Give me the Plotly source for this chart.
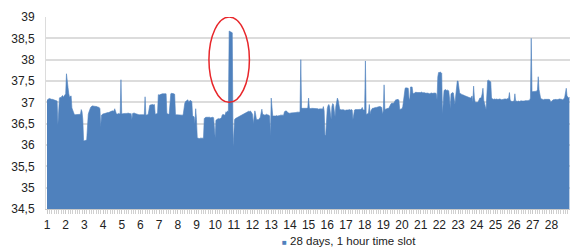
import plotly.graph_objects as go

# Hourly temperature readings, 24 per day, 28 days
day01 = [37.05,37.08,37.08,37.09,37.08,37.08,37.07,37.07,37.06,37.06,37.05,37.04,37.03,37.03,36.47,37.05,37.1,37.12,37.1,37.14,37.16,37.12,37.15,37.18]
day02 = [37.2,37.67,37.42,37.35,37.2,37.12,37.14,37.15,36.87,36.8,36.75,36.72,36.71,36.71,36.72,36.71,36.71,36.71,36.72,36.72,36.83,36.78,36.6,36.1]
day03 = [36.1,36.1,36.11,36.12,36.67,36.72,36.78,36.84,36.88,36.9,36.92,36.92,36.91,36.91,36.9,36.9,36.9,36.89,36.88,36.88,36.85,36.42,36.7,36.72]
day04 = [36.73,36.73,36.74,36.74,36.75,36.75,36.76,36.76,36.77,36.77,36.78,36.8,36.8,36.79,36.8,36.85,36.78,36.74,36.72,36.73,36.74,36.73,36.74,37.53]
day05 = [36.73,36.73,36.74,36.73,36.74,36.74,36.73,36.74,36.75,36.74,36.74,36.73,36.74,36.6,36.74,36.75,36.75,36.74,36.73,36.72,36.72,36.72,36.71,36.71]
day06 = [36.71,36.71,36.7,36.7,36.71,36.72,37.13,36.7,36.7,36.71,36.72,36.9,36.93,36.94,36.95,36.95,36.95,36.94,36.95,36.72,36.72,36.73,36.75,37.18]
day07 = [37.17,37.18,37.19,37.19,37.2,37.2,37.2,37.2,37.21,37.2,36.74,36.72,36.72,36.73,37.18,37.2,37.21,37.21,37.2,37.2,37.19,36.72,36.71,36.71]
day08 = [36.71,36.71,36.7,36.7,36.7,36.71,36.7,36.72,36.9,36.98,37.02,37.04,37.05,37.06,37.0,37.04,37.05,37.03,37.02,36.68,36.67,36.66,36.5,36.85]
day09 = [36.6,36.17,36.16,36.15,36.15,36.16,36.16,36.15,36.16,36.16,36.62,36.64,36.65,36.65,36.65,36.66,36.65,36.65,36.64,36.65,36.66,36.65,36.64,36.4]
day10 = [36.17,36.58,36.6,36.62,36.62,36.61,36.62,36.62,36.63,36.7,36.72,36.71,36.7,36.72,36.78,36.76,36.8,36.78,38.67,38.66,38.65,38.64,38.63,35.96]
day11 = [36.55,36.6,36.62,36.63,36.65,36.66,36.67,36.68,36.69,36.7,36.71,36.72,36.73,36.74,36.74,36.75,36.76,36.78,36.79,36.79,36.78,36.8,36.78,36.72]
day12 = [36.72,36.5,36.75,36.8,36.72,36.6,36.6,36.59,36.6,36.62,36.65,36.75,36.84,36.72,36.71,36.71,36.7,36.71,36.72,36.71,36.71,36.7,36.68,36.2]
day13 = [37.1,36.85,36.68,36.68,36.67,36.68,36.68,36.69,36.68,36.68,36.69,36.69,36.7,36.7,36.69,36.7,36.7,36.78,36.79,36.8,36.79,36.76,36.75,36.75]
day14 = [36.74,36.75,36.75,36.75,36.76,36.75,36.76,36.76,36.76,36.77,36.76,36.77,36.77,36.78,38.0,36.87,36.86,36.86,36.86,36.87,36.86,36.86,36.86,36.88]
day15 = [37.1,36.87,36.86,36.85,36.86,36.86,36.85,36.85,36.86,36.85,36.86,36.85,36.85,36.84,36.85,36.85,36.84,36.85,36.84,36.9,36.8,36.24,36.22,36.6]
day16 = [36.85,36.92,36.95,36.9,36.8,36.6,36.9,36.97,36.95,36.85,36.66,36.9,37.0,37.1,37.05,36.9,36.84,36.83,36.82,36.82,36.83,36.82,36.82,36.81]
day17 = [36.82,36.82,36.81,36.82,36.83,36.82,36.82,36.83,36.82,36.6,36.75,36.82,36.83,36.82,36.83,36.83,36.82,36.83,36.84,36.83,36.85,36.88,36.82,36.82]
day18 = [36.82,37.97,36.72,36.72,36.73,36.75,36.95,36.72,36.8,36.85,36.86,36.86,36.87,36.87,36.88,36.88,36.89,36.88,36.89,36.9,36.9,36.89,36.88,36.72]
day19 = [36.8,37.41,36.83,36.84,36.85,36.85,36.86,36.86,36.9,36.97,36.97,36.98,36.97,36.98,37.0,37.05,37.06,37.06,37.06,37.07,37.05,36.84,36.84,36.84]
day20 = [36.85,36.9,37.1,37.2,37.33,37.34,37.33,37.34,37.33,37.1,37.06,37.36,37.37,37.36,37.22,37.2,37.22,37.23,37.24,37.23,37.23,37.22,37.23,37.22]
day21 = [37.23,37.24,37.23,37.22,37.23,37.22,37.22,37.21,37.22,37.22,37.21,37.2,37.21,37.21,37.22,37.21,37.21,37.22,37.21,37.22,37.2,37.06,37.6,37.7]
day22 = [37.7,37.71,37.7,37.68,36.72,37.1,37.28,37.29,37.3,37.28,37.29,37.28,37.27,37.1,36.85,37.2,37.22,37.23,37.22,37.1,36.95,37.15,37.3,37.5]
day23 = [37.5,37.3,37.22,37.2,37.2,37.18,37.18,37.17,37.16,37.15,37.15,37.13,37.12,37.12,37.11,37.1,37.1,37.12,37.15,37.0,37.38,37.1,37.0,37.0]
day24 = [37.0,37.0,37.02,37.08,37.1,37.1,37.12,37.2,37.33,37.05,37.0,36.9,36.83,37.45,37.51,37.52,37.51,37.5,37.48,37.1,37.08,37.07,37.07,37.08]
day25 = [37.07,37.08,37.07,37.06,37.07,37.08,37.08,37.07,37.06,37.07,37.08,37.07,37.08,37.08,37.07,37.09,37.08,37.1,37.23,37.05,37.03,37.02,37.02,37.03]
day26 = [37.02,37.2,37.02,37.03,37.02,37.03,37.03,37.02,37.03,37.04,37.03,37.03,37.02,37.03,37.04,37.04,37.03,37.03,37.04,37.05,37.05,37.1,38.5,37.25]
day27 = [37.25,37.26,37.25,37.26,37.25,37.26,37.3,37.6,37.3,37.18,37.1,37.08,37.07,37.07,37.06,37.07,37.07,37.08,37.07,37.07,37.08,37.07,37.06,37.0]
day28 = [37.02,37.05,37.06,37.06,37.07,37.06,37.07,37.06,37.06,37.07,37.08,37.07,37.06,37.07,37.06,37.07,37.08,37.12,37.2,37.33,37.15,37.1,37.1,37.12]

days = [day01, day02, day03, day04, day05, day06, day07, day08, day09, day10,
        day11, day12, day13, day14, day15, day16, day17, day18, day19, day20,
        day21, day22, day23, day24, day25, day26, day27, day28]
day_labels = [str(d) for d in range(1, 29)]
y_ticks = [34.5, 35, 35.5, 36, 36.5, 37, 37.5, 38, 38.5, 39]
y_tick_labels = ["34,5", "35", "35,5", "36", "36,5", "37", "37,5", "38", "38,5", "39"]
series_name = "28 days, 1 hour time slot"

temps = [v for d in days for v in d]
hours = list(range(len(temps)))
day_starts = [24 * i for i in range(len(days))]

BLUE = "#4f81bd"
FONT = "Liberation Sans"
TEXT = "#222222"

fig = go.Figure()
fig.add_trace(go.Scatter(
    x=hours, y=temps, mode="lines", fill="tozeroy",
    line=dict(color=BLUE, width=0.6), fillcolor=BLUE,
    name=series_name, showlegend=False, hoverinfo="skip",
))

# Highlight ellipse around the largest spike
peak_i = max(hours, key=lambda i: temps[i])
fig.add_shape(type="circle", xref="x", yref="y",
              x0=peak_i - 26, x1=peak_i + 26, y0=37.0, y1=39.0,
              line=dict(color="#e8262a", width=1.5))

fig.add_annotation(
    xref="paper", yref="paper", x=0.4466, y=-0.168, xanchor="left", yanchor="middle",
    text="<span style='color:%s;font-size:8px'>■</span> %s" % (BLUE, series_name),
    showarrow=False, font=dict(family=FONT, size=11.5, color=TEXT),
)

fig.update_layout(
    width=570, height=247,
    margin=dict(l=46, r=0, t=17, b=38, autoexpand=False),
    plot_bgcolor="white", paper_bgcolor="white",
    font=dict(family=FONT, size=12, color=TEXT),
    showlegend=False,
    xaxis=dict(
        range=[-1.28, 671.8], tickmode="array", tickvals=day_starts, ticktext=day_labels,
        automargin=False,
        showgrid=False, zeroline=False, showline=True, linecolor="#c8c8c8", linewidth=1,
        ticks="outside", ticklen=4, tickcolor="#c8c8c8", ticklabelstandoff=1,
        minor=dict(dtick=3, tick0=0, ticks="outside", ticklen=4, tickcolor="#d0d0d0", showgrid=False),
        tickfont=dict(family=FONT, size=12, color=TEXT),
    ),
    yaxis=dict(
        range=[34.5, 39], tickmode="array", tickvals=y_ticks, ticktext=y_tick_labels,
        automargin=False,
        showgrid=True, gridcolor="#dcdcdc", gridwidth=1.5, zeroline=False,
        showline=True, linecolor="#dcdcdc", linewidth=1, ticks="", ticklabelstandoff=8,
        tickfont=dict(family=FONT, size=12, color=TEXT),
    ),
)

fig.write_html("out.html", config={"displayModeBar": False},
               post_script="document.body.style.margin='0';document.body.style.overflow='hidden';")
